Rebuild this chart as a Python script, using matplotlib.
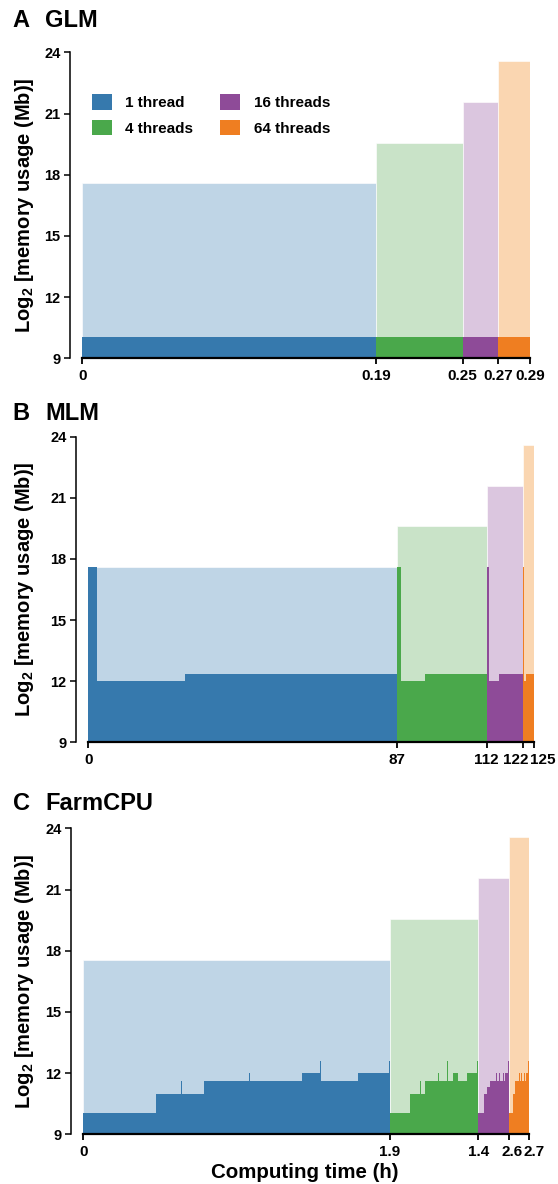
import numpy as np
import matplotlib
matplotlib.use("Agg")
import matplotlib.pyplot as plt
import matplotlib.transforms as mtransforms
from matplotlib.patches import Patch

plt.rcParams['font.family'] = ['Liberation Sans', 'DejaVu Sans']
plt.rcParams['font.weight'] = 'bold'
plt.rcParams['mathtext.fontset'] = 'custom'
plt.rcParams['mathtext.rm'] = 'Liberation Sans:bold'
plt.rcParams['mathtext.bf'] = 'Liberation Sans:bold'

# ---------------- data ----------------
thread_labels = ["1 thread", "4 threads", "16 threads", "64 threads"]
dark_colors = ["#3679ad", "#4aa84b", "#8e4b98", "#ef7e21"]
light_colors = ["#bfd5e6", "#c9e3c8", "#dbc6df", "#fad6b1"]

# GLM
glm_bounds = [0.0, 0.1905, 0.2462, 0.2693, 0.29]
glm_tick_labels = ["0", "0.19", "0.25", "0.27", "0.29"]
glm_peak = [17.58, 19.57, 21.58, 23.59]
glm_t_1 = [0.0];    glm_v_1 = [10.03]
glm_t_4 = [0.1905]; glm_v_4 = [10.03]
glm_t_16 = [0.2462]; glm_v_16 = [10.03]
glm_t_64 = [0.2693]; glm_v_64 = [10.03]

# MLM
mlm_bounds = [0.0, 86.7, 112.0, 122.1, 125.0]
mlm_tick_labels = ["0", "87", "112", "122", "125"]
mlm_peak = [17.6, 19.6, 21.6, 23.6]
mlm_t_1 = [0.0, 2.5, 27.1];       mlm_v_1 = [17.6, 12.0, 12.37]
mlm_t_4 = [86.7, 87.7, 94.6];     mlm_v_4 = [17.6, 12.0, 12.37]
mlm_t_16 = [112.0, 112.35, 115.2]; mlm_v_16 = [17.6, 12.0, 12.37]
mlm_t_64 = [122.1, 122.3, 122.9]; mlm_v_64 = [17.6, 12.0, 12.37]

# FarmCPU
farm_bounds = [0.0, 1.857, 2.388, 2.577, 2.7]
farm_tick_labels = ["0", "1.9", "1.4", "2.6", "2.7"]
farm_peak = [17.55, 19.56, 21.57, 23.57]
farm_t_1 = [0.0, 0.438, 0.590, 0.596, 0.733, 1.006, 1.012, 1.323, 1.434, 1.440, 1.666, 1.850]
farm_v_1 = [10.03, 11.0, 11.6, 11.0, 11.6, 12.0, 11.6, 12.0, 12.6, 11.6, 12.0, 12.6]
farm_t_4 = [1.857, 1.979, 2.039, 2.045, 2.070, 2.150, 2.156, 2.204, 2.210, 2.236, 2.271, 2.322, 2.382]
farm_v_4 = [10.03, 11.0, 11.6, 11.0, 11.6, 12.0, 11.6, 12.6, 11.6, 12.0, 11.6, 12.0, 12.6]
farm_t_16 = [2.388, 2.426, 2.444, 2.465, 2.497, 2.503, 2.519, 2.525, 2.541, 2.547, 2.556, 2.571]
farm_v_16 = [10.03, 11.0, 11.3, 11.6, 12.0, 11.6, 12.0, 11.6, 12.0, 11.6, 12.0, 12.6]
farm_t_64 = [2.577, 2.599, 2.614, 2.637, 2.643, 2.653, 2.659, 2.668, 2.674, 2.681, 2.694]
farm_v_64 = [10.03, 11.0, 11.6, 12.0, 11.6, 12.0, 11.6, 12.0, 11.6, 12.0, 12.6]

y_ticks = [9, 12, 15, 18, 21, 24]

# ---------------- layout ----------------
W, H = 558, 1184
fig = plt.figure(figsize=(W / 100, H / 100), dpi=100)


def px_axes(x0, x1, ytop, ybot):
    return fig.add_axes([x0 / W, 1 - ybot / H, (x1 - x0) / W, (ybot - ytop) / H])


def draw_panel(ax, bounds, peaks, series, ticklabels, label_shift_px=None):
    lefts = bounds[:-1]
    widths = np.diff(bounds)
    ax.bar(lefts, np.array(peaks) - 9, bottom=9, width=widths, align='edge',
           color=light_colors, edgecolor=(1, 1, 1, 0.6), linewidth=0.7, zorder=1)
    for i, (t, v) in enumerate(series):
        xs = np.r_[t, bounds[i + 1]]
        ys = np.r_[v, v[-1]]
        ax.fill_between(xs, ys, 9, step='post', color=dark_colors[i], lw=0, zorder=2)
    ax.set_xlim(bounds[0], bounds[-1])
    ax.set_ylim(9, 24)
    ax.set_yticks(y_ticks)
    ax.set_xticks(bounds)
    ax.set_xticklabels(ticklabels)
    for s in ['top', 'right']:
        ax.spines[s].set_visible(False)
    ax.spines['left'].set_position(('outward', 8.5))
    ax.spines['left'].set_bounds(9, 24)
    ax.spines['left'].set_linewidth(1.1)
    ax.spines['bottom'].set_linewidth(1.6)
    ax.spines['bottom'].set_zorder(5)
    ax.tick_params(axis='y', length=4.3, width=1.1, pad=2.8, labelsize=10.5)
    ax.tick_params(axis='x', length=4.0, width=1.3, pad=3.5, labelsize=11)
    for lab in ax.get_xticklabels() + ax.get_yticklabels():
        lab.set_fontweight('bold')
    if label_shift_px is not None:
        for lab, dx in zip(ax.get_xticklabels(), label_shift_px):
            if dx:
                off = mtransforms.ScaledTranslation(dx / 100, 0, fig.dpi_scale_trans)
                lab.set_transform(lab.get_transform() + off)


axA = px_axes(82.2, 530.2, 52.3, 358.3)
draw_panel(axA, glm_bounds, glm_peak,
           [(glm_t_1, glm_v_1), (glm_t_4, glm_v_4), (glm_t_16, glm_v_16), (glm_t_64, glm_v_64)],
           glm_tick_labels)

axB = px_axes(88.3, 533.8, 436.7, 742.3)
draw_panel(axB, mlm_bounds, mlm_peak,
           [(mlm_t_1, mlm_v_1), (mlm_t_4, mlm_v_4), (mlm_t_16, mlm_v_16), (mlm_t_64, mlm_v_64)],
           mlm_tick_labels, label_shift_px=[0, 0, -1, -8, 9])

axC = px_axes(83.3, 529.2, 828.3, 1134.3)
draw_panel(axC, farm_bounds, farm_peak,
           [(farm_t_1, farm_v_1), (farm_t_4, farm_v_4), (farm_t_16, farm_v_16), (farm_t_64, farm_v_64)],
           farm_tick_labels, label_shift_px=[0, 0, 1, 3, 5])

# legend
handles = [Patch(facecolor=c, edgecolor='none') for c in dark_colors]
leg = axA.legend(handles, thread_labels, ncol=2, frameon=False,
                 loc='upper left', bbox_to_anchor=(91.7 / W, 1 - 94.0 / H),
                 bbox_transform=fig.transFigure, borderpad=0, borderaxespad=0,
                 handlelength=1.31, handleheight=1.21, handletextpad=0.9,
                 columnspacing=1.75, labelspacing=0.62,
                 prop={'size': 11, 'weight': 'bold'})

# titles
for (letter, name, yc) in [("A", "GLM", 20.5), ("B", "MLM", 413.0), ("C", "FarmCPU", 803.0)]:
    fig.text(12.5 / W, 1 - yc / H, letter, fontsize=17, fontweight='bold', ha='left', va='center')
    fig.text(45.5 / W, 1 - yc / H, name, fontsize=17, fontweight='bold', ha='left', va='center')

# y labels
ylab = r"Log$_\mathbf{2}$ [memory usage (Mb)]"
for yc in [(52.3 + 358.3) / 2, (436.7 + 742.3) / 2, (828.3 + 1134.3) / 2]:
    fig.text(24 / W, 1 - yc / H, ylab, rotation=90, fontsize=14.5, fontweight='bold',
             ha='center', va='center')

fig.text(305 / W, 1 - 1172 / H, "Computing time (h)", fontsize=14.8, fontweight='bold',
         ha='center', va='center')

fig.savefig("out.png", dpi=100)
